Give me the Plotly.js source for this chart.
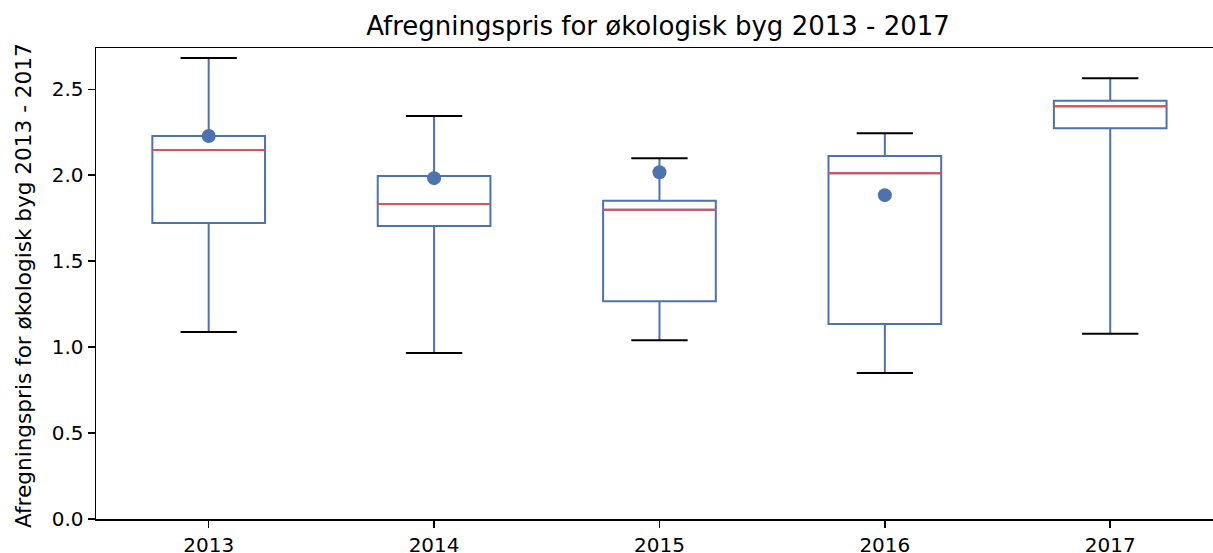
<!DOCTYPE html>
<html>
<head>
<meta charset="utf-8">
<script src="https://cdn.plot.ly/plotly-3.0.1.min.js"></script>
<style>html,body{margin:0;padding:0;background:#fff;}#chart{width:1213px;height:553px;}</style>
</head>
<body>
<div id="chart"></div>
<script>
const years = ['2013', '2014', '2015', '2016', '2017'];
const lowerWhisker = [1.088, 0.966, 1.040, 0.849, 1.078];
const q1 = [1.722, 1.704, 1.267, 1.134, 2.273];
const median = [2.147, 1.832, 1.799, 2.012, 2.401];
const q3 = [2.228, 1.995, 1.851, 2.112, 2.433];
const upperWhisker = [2.682, 2.344, 2.099, 2.244, 2.564];
const markerValue = [2.228, 1.983, 2.017, 1.884, null];
const titleText = 'Afregningspris for økologisk byg 2013 - 2017';

const BLUE = '#4c72b0';
const RED = '#e05050';
const pos = years.map((_, i) => i + 1);
const boxHalf = 0.25, capHalf = 0.125;

function segs(values, half) {
  const xs = [], ys = [];
  values.forEach((v, i) => {
    xs.push(pos[i] - half, pos[i] + half, null);
    ys.push(v, v, null);
  });
  return {xs, ys};
}

const med = segs(median, boxHalf);
const lowCap = segs(lowerWhisker, capHalf);
const upCap = segs(upperWhisker, capHalf);

const traces = [
  {
    type: 'box', x: pos, q1: q1, median: median, q3: q3,
    lowerfence: lowerWhisker, upperfence: upperWhisker,
    width: 0.5, whiskerwidth: 0, boxpoints: false,
    line: {color: BLUE, width: 2}, fillcolor: 'rgba(0,0,0,0)',
    hoverinfo: 'skip', showlegend: false
  },
  {type: 'scatter', mode: 'lines', x: med.xs, y: med.ys, line: {color: RED, width: 2}, hoverinfo: 'skip', showlegend: false},
  {type: 'scatter', mode: 'lines', x: lowCap.xs.concat(upCap.xs), y: lowCap.ys.concat(upCap.ys), line: {color: '#000', width: 2}, hoverinfo: 'skip', showlegend: false},
  {type: 'scatter', mode: 'markers', x: pos, y: markerValue, marker: {color: BLUE, size: 14}, showlegend: false}
];

const layout = {
  width: 1213, height: 553,
  margin: {l: 96, r: 0, t: 48, b: 34},
  paper_bgcolor: '#fff', plot_bgcolor: '#fff',
  font: {family: 'DejaVu Sans', color: '#000', size: 20},
  title: {text: titleText, font: {size: 26, color: '#000'},
          xref: 'container', x: 0.5425, xanchor: 'center', yref: 'container', y: 1 - 26/553, yanchor: 'middle'},
  xaxis: {
    range: [0.5, 5.456], tickmode: 'array', tickvals: pos, ticktext: years,
    showline: true, linecolor: '#000', linewidth: 1.5, mirror: true,
    ticks: 'outside', ticklen: 7, tickwidth: 1.5, tickcolor: '#000',
    showgrid: false, zeroline: false, tickfont: {size: 20}
  },
  yaxis: {
    range: [0, 2.740], tickmode: 'array', tickvals: [0, 0.5, 1, 1.5, 2, 2.5],
    ticktext: ['0.0', '0.5', '1.0', '1.5', '2.0', '2.5'],
    showline: true, linecolor: '#000', linewidth: 1.5,
    ticks: 'outside', ticklen: 7, tickwidth: 1.5, tickcolor: '#000',
    showgrid: false, zeroline: false, tickfont: {size: 20}
  },
  annotations: [{
    text: titleText, textangle: -90, showarrow: false,
    xref: 'paper', yref: 'paper', x: 0, y: 0.5, xanchor: 'center', yanchor: 'middle',
    xshift: -73, yshift: -2.5, font: {size: 21.6, color: '#000'}
  }]
};

Plotly.newPlot('chart', traces, layout, {displayModeBar: false, staticPlot: true});
</script>
</body>
</html>
